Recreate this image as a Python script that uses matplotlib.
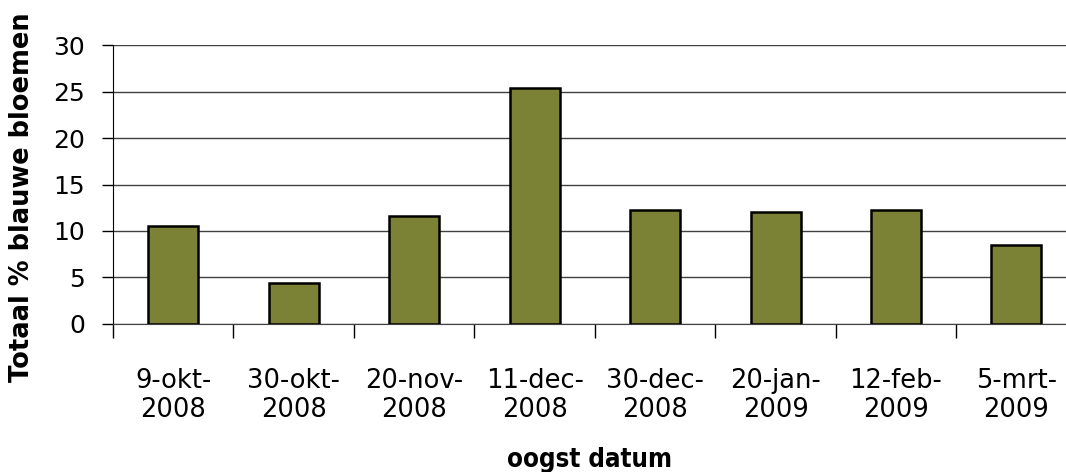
import matplotlib
matplotlib.use("Agg")
import matplotlib.pyplot as plt
import numpy as np

# harvest dates and total % blue flowers
dates = ["9-okt-\n2008", "30-okt-\n2008", "20-nov-\n2008", "11-dec-\n2008",
         "30-dec-\n2008", "20-jan-\n2009", "12-feb-\n2009", "5-mrt-\n2009"]
blauw = [10.5, 4.4, 11.6, 25.4, 12.3, 12.0, 12.3, 8.5]
yticks = [0, 5, 10, 15, 20, 25, 30]

fig = plt.figure(figsize=(10.66, 4.72), dpi=100)
ax = fig.add_axes([0.106, 0.3136, 0.904, 0.591])

x = np.arange(len(dates))
ax.bar(x, blauw, width=0.415, color="#7b8135", edgecolor="black",
       linewidth=1.8, zorder=3)

ax.set_ylim(0, 30)
ax.set_xlim(-0.5, len(dates) - 0.5)
ax.set_yticks(yticks)
ax.set_yticklabels([str(v) for v in yticks], family="DejaVu Sans", fontsize=18)
ax.yaxis.grid(True, color="#404040", linewidth=1.0, zorder=0)

ax.set_xticks(x)
ax.set_xticklabels(dates, family="DejaVu Sans", fontsize=18.5, linespacing=1.15)
ax.set_xticks(np.arange(-0.5, len(dates)), minor=True)
ax.tick_params(axis="x", which="major", length=0, pad=32)
ax.tick_params(axis="x", which="minor", length=10, width=1, color="black")
ax.tick_params(axis="y", length=8, width=1, color="black", pad=12)

for s in ["top", "right"]:
    ax.spines[s].set_visible(False)
ax.spines["left"].set_color("black")
ax.spines["bottom"].set_color("#404040")

ax.set_ylabel("Totaal % blauwe bloemen", family="DejaVu Sans",
              fontweight="bold", fontsize=18.5)
ax.yaxis.set_label_coords(-0.081, 0.455)
fig.text(0.553, 0.025, "oogst datum", family="DejaVu Sans", fontstretch="condensed",
         fontweight="bold", fontsize=18.5, ha="center", va="center")

fig.savefig("out.png", dpi=100)
